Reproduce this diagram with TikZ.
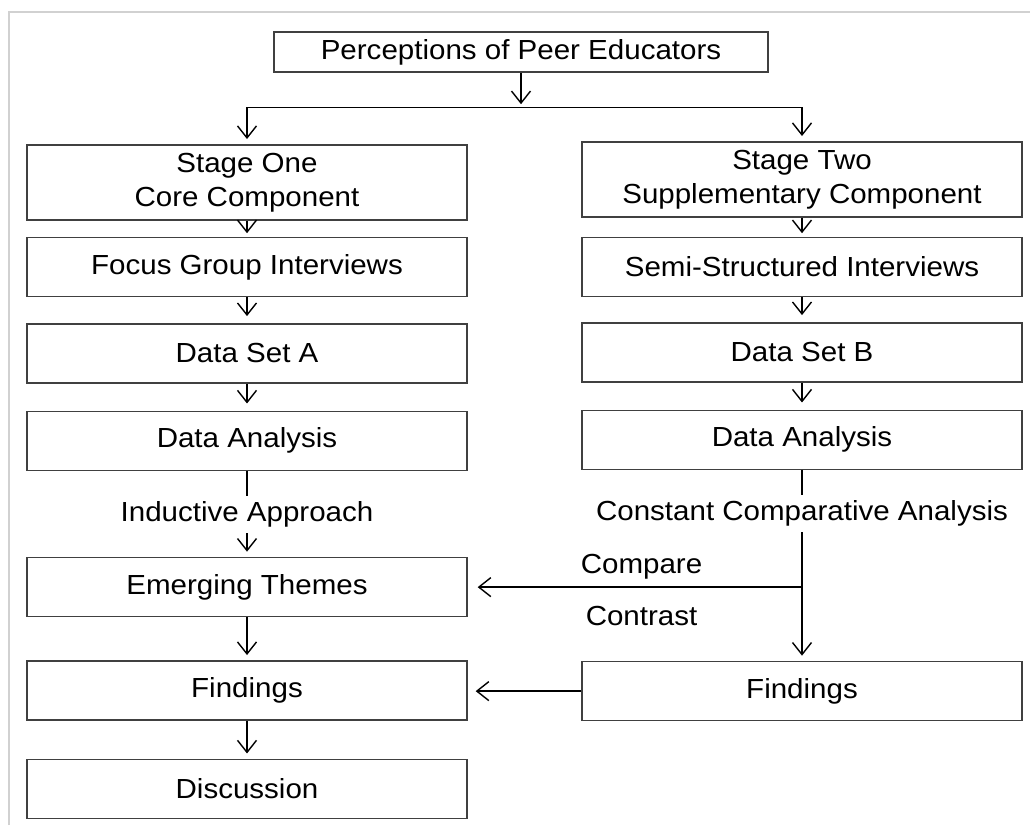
\documentclass[tikz,border=0pt]{standalone}
\usepackage{fontspec}
\setmainfont{Liberation Sans}[FakeStretch=1.07]
\usepackage{tikz}
\usetikzlibrary{arrows.meta,positioning}

\begin{document}
\begin{tikzpicture}[>={Straight Barb[length=0.24cm,width=0.38cm]},line width=0.8pt,
  font=\fontsize{15.7}{19.4}\selectfont,
  box/.style={draw=black!75,minimum width=8.8cm,minimum height=1.18cm,inner sep=0pt},
  stagebox/.style={box,minimum height=1.5cm,align=center},
  lbl/.style={inner xsep=0.06cm,inner ysep=0.1cm}]
\useasboundingbox (0,0) rectangle (20.6,-16.5);
% light frame on top and left
\draw[black!18,line width=0.04cm] (0.18,-16.5) -- (0.18,-0.24) -- (20.6,-0.24);

\node[box,minimum width=9.88cm,minimum height=0.8cm] (title) at (10.42,-1.04) {Perceptions of Peer Educators};
\coordinate[below=0.7cm of title] (fork);

% stage one, left column
\node[stagebox] (stageA) at (4.94,-3.65) {Stage One\\Core Component};
\node[box,below=0.32cm of stageA] (focus) {Focus Group Interviews};
\node[box,below=0.52cm of focus] (setA) {Data Set A};
\node[box,below=0.54cm of setA] (anaA) {Data Analysis};
\node[lbl,below=0.5cm of anaA] (induct) {Inductive Approach};
\node[box,below=1.72cm of anaA] (themes) {Emerging Themes};
\node[box,below=0.86cm of themes] (findA) {Findings};
\node[box,below=0.76cm of findA] (disc) {Discussion};

% stage two, right column
\node[stagebox] (stageB) at (16.04,-3.59) {Stage Two\\Supplementary Component};
\node[box,below=0.38cm of stageB] (semi) {Semi-Structured Interviews};
\node[box,below=0.5cm of semi] (setB) {Data Set B};
\node[box,below=0.54cm of setB] (anaB) {Data Analysis};
\node[lbl,below=0.5cm of anaB] (ccomp) {Constant Comparative Analysis};
\node[box,below=3.82cm of anaB] (findB) {Findings};

\draw[->,shorten >=2pt] (title) -- (fork);
\draw[->,shorten >=3pt] (fork) -| (stageA);
\draw[->,shorten >=3pt] (fork) -| (stageB);

\draw[->,shorten >=2pt] (stageA) -- (focus);
\draw[->,shorten >=4pt] (focus) -- (setA);
\draw[->,shorten >=4pt] (setA) -- (anaA);
\draw (anaA) -- (induct);
\draw[->,shorten >=3pt] (induct) -- (themes);
\draw[->,shorten >=3pt] (themes) -- (findA);
\draw[->,shorten >=3pt] (findA) -- (disc);

\draw[->,shorten >=2pt] (stageB) -- (semi);
\draw[->,shorten >=4pt] (semi) -- (setB);
\draw[->,shorten >=4pt] (setB) -- (anaB);
\draw (anaB) -- (ccomp);
\draw[->,shorten >=3pt] (ccomp) -- (findB);
\draw[->,shorten >=0.2cm] (ccomp.south |- themes.east) -- (themes.east)
  node[pos=0.48,above=1pt] {Compare}
  node[pos=0.48,below=0.26cm] {Contrast};
\draw[->,shorten >=0.16cm] (findB.west) -- (findB.west -| findA.east);
\end{tikzpicture}
\end{document}
